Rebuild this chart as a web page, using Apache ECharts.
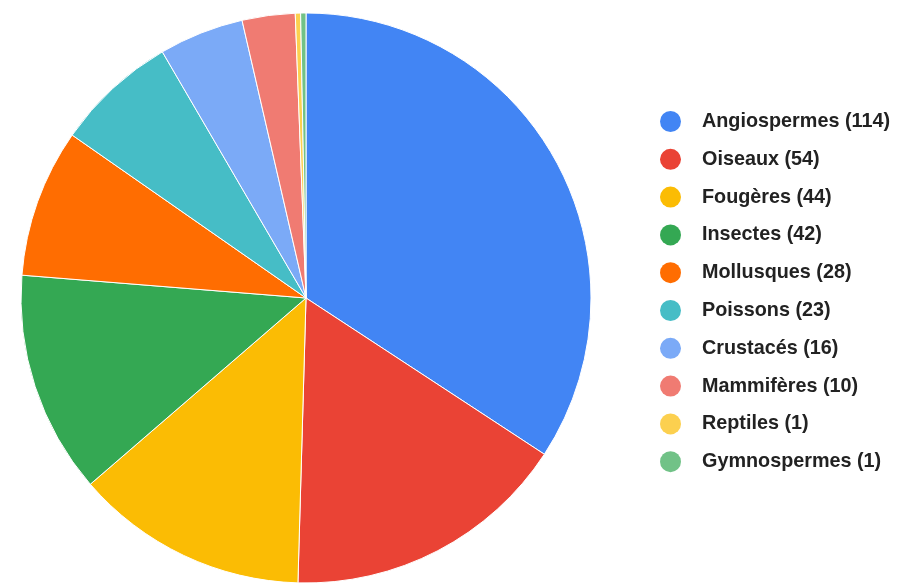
<!DOCTYPE html>
<html>
<head>
<meta charset="utf-8">
<script src="https://cdn.jsdelivr.net/npm/echarts@6/dist/echarts.min.js"></script>
<style>
  html, body { margin: 0; padding: 0; background: #fff; }
  #chartArea { width: 899px; height: 583px; }
</style>
</head>
<body>
<div id="chartArea"></div>
<script>
var categories = ['Angiospermes', 'Oiseaux', 'Fougères', 'Insectes', 'Mollusques',
    'Poissons', 'Crustacés', 'Mammifères', 'Reptiles', 'Gymnospermes'];
var counts = [114, 54, 44, 42, 28, 23, 16, 10, 1, 1];
var colors = ['#4285F4', '#EA4335', '#FBBC04', '#34A853', '#FF6D01',
    '#46BDC6', '#7BAAF7', '#F07B72', '#FCD04F', '#71C287'];

var myChart = echarts.init(document.getElementById('chartArea'));

var pieData = categories.map(function(name, i) {
    return { name: name, value: counts[i], itemStyle: { color: colors[i] } };
});

myChart.setOption({
    animation: false,
    legend: {
        orient: 'vertical',
        left: 660,
        top: 111,
        padding: 0,
        icon: 'circle',
        itemWidth: 21,
        itemHeight: 21,
        itemGap: 16.8,
        itemStyle: { borderWidth: 0 },
        textStyle: {
            fontFamily: 'Arial, "Liberation Sans", sans-serif',
            fontSize: 19.8,
            fontWeight: 'bold',
            color: '#222222',
            lineHeight: 21,
            padding: [0, 0, 0, 16]
        },
        formatter: function(name) {
            return name + ' (' + counts[categories.indexOf(name)] + ')';
        },
        data: categories
    },
    series: [{
        type: 'pie',
        center: [306, 298],
        radius: [0, 285],
        startAngle: 90,
        clockwise: true,
        label: { show: false },
        labelLine: { show: false },
        itemStyle: { borderColor: '#ffffff', borderWidth: 1 },
        emphasis: { disabled: true },
        data: pieData
    }]
});
</script>
</body>
</html>
